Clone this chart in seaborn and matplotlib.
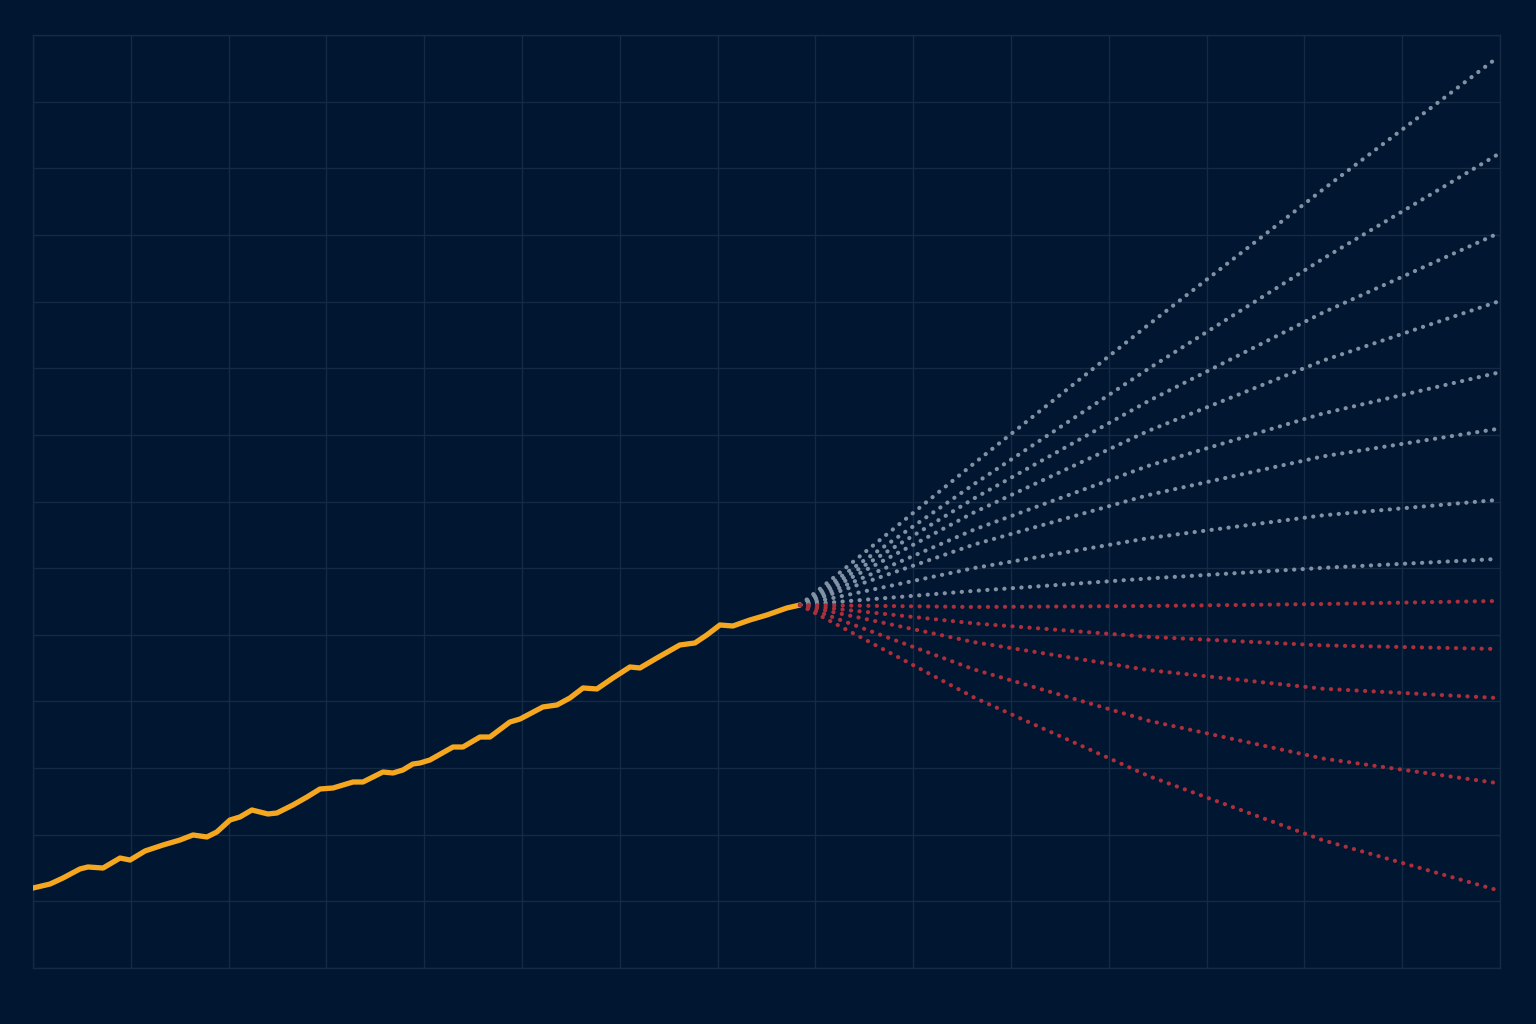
import numpy as np
import pandas as pd
import matplotlib
matplotlib.use("Agg")
import matplotlib.pyplot as plt
import seaborn as sns

# historical series (year, value)
hist_year = [1995.0, 1995.87, 1996.53, 1997.40, 1997.81, 1998.58, 1999.45, 1999.96, 2000.73,
             2001.65, 2002.51, 2003.18, 2003.89, 2004.40, 2005.07, 2005.58, 2006.19, 2007.01,
             2007.47, 2008.29, 2009.01, 2009.67, 2010.34, 2011.36, 2011.87, 2012.89, 2013.40,
             2013.91, 2014.42, 2014.78, 2015.29, 2016.47, 2016.98, 2017.85, 2018.36, 2019.38,
             2019.90, 2021.07, 2021.79, 2022.45, 2023.12, 2023.83, 2024.65, 2025.52, 2026.03,
             2026.90, 2028.07, 2028.84, 2029.45, 2030.12, 2030.78, 2031.65, 2032.52, 2033.54,
             2034.21]
hist_value = [12.0, 12.6, 13.5, 14.86, 15.16, 15.0, 16.5, 16.2, 17.56,
              18.46, 19.2, 19.96, 19.66, 20.41, 22.21, 22.66, 23.71, 23.11,
              23.26, 24.46, 25.66, 26.86, 27.01, 27.91, 27.91, 29.41, 29.26,
              29.71, 30.61, 30.76, 31.21, 33.16, 33.16, 34.66, 34.66, 36.91,
              37.36, 39.17, 39.47, 40.52, 42.02, 41.87, 43.52, 45.17, 45.02,
              46.52, 48.47, 48.77, 49.97, 51.47, 51.32, 52.22, 52.97, 54.02,
              54.47]

# projection scenarios
proj_year = [2034.21, 2043.12, 2052.03, 2060.93, 2069.84]
up_scenarios = {
    "up1": [54.47, 75.74, 96.53, 116.78, 136.55],
    "up2": [54.47, 72.63, 89.93, 106.39, 122.0],
    "up3": [54.47, 70.48, 85.08, 98.32, 110.14],
    "up4": [54.47, 68.38, 80.61, 91.12, 99.94],
    "up5": [54.47, 65.79, 75.36, 83.19, 89.29],
    "up6": [54.47, 63.55, 70.98, 76.76, 80.88],
    "up7": [54.47, 60.02, 64.51, 67.92, 70.23],
    "up8": [54.47, 56.59, 58.45, 60.04, 61.37],
}
down_scenarios = {
    "down1": [54.47, 54.17, 54.32, 54.62, 55.07],
    "down2": [54.47, 51.71, 49.69, 48.41, 47.87],
    "down3": [54.47, 48.89, 44.70, 41.91, 40.52],
    "down4": [54.47, 44.79, 37.11, 31.44, 27.76],
    "down5": [54.47, 40.58, 28.81, 19.19, 11.70],
}

bg = "#011630"
grid_c = "#152a45"

sns.set_theme(style="darkgrid", rc={
    "figure.facecolor": bg,
    "axes.facecolor": bg,
    "grid.color": grid_c,
    "grid.linewidth": 1.0,
    "axes.edgecolor": grid_c,
})

fig = plt.figure(figsize=(15.36, 10.24), dpi=100)
ax = fig.add_axes([33 / 1536, 56 / 1024, 1467 / 1536, 933 / 1024])

hist = pd.DataFrame({"year": hist_year, "value": hist_value})
sns.lineplot(data=hist, x="year", y="value", ax=ax, color="#f5a81f", linewidth=3.8,
             solid_capstyle="round", solid_joinstyle="round", zorder=3)

dots = (0, (0.05, 2.0))
for name, vals in up_scenarios.items():
    df = pd.DataFrame({"year": proj_year, "value": vals})
    sns.lineplot(data=df, x="year", y="value", ax=ax, color="#8291a4", linewidth=3.0,
                 linestyle=dots, dash_capstyle="round", zorder=4)
for name, vals in down_scenarios.items():
    df = pd.DataFrame({"year": proj_year, "value": vals})
    sns.lineplot(data=df, x="year", y="value", ax=ax, color="#ad2f3b", linewidth=3.0,
                 linestyle=dots, dash_capstyle="round", zorder=4)

ax.set_xlim(1995, 2070)
ax.set_ylim(0, 140)
ax.set_xticks(np.arange(1995, 2071, 5))
ax.set_yticks(np.arange(0, 141, 10))
ax.tick_params(length=0, labelbottom=False, labelleft=False)
ax.set_xlabel("")
ax.set_ylabel("")
for s in ax.spines.values():
    s.set_visible(True)
    s.set_color(grid_c)
    s.set_linewidth(1.0)

fig.savefig("out.png", dpi=100, facecolor=bg)
